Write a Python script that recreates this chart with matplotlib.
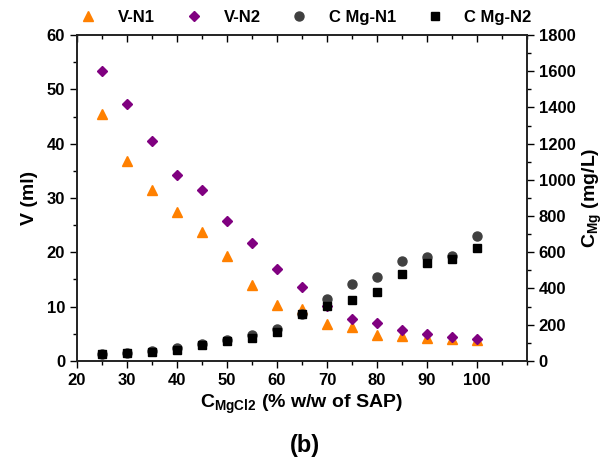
import numpy as np
import matplotlib
matplotlib.use("Agg")
import matplotlib.pyplot as plt
from matplotlib.ticker import MultipleLocator

plt.rcParams['font.family'] = ['Liberation Sans', 'DejaVu Sans']
plt.rcParams['font.weight'] = 'bold'
plt.rcParams['mathtext.fontset'] = 'custom'
plt.rcParams['mathtext.rm'] = 'Liberation Sans:bold'
plt.rcParams['mathtext.default'] = 'rm'

# MgCl2 dose (% w/w of SAP)
conc = [25, 30, 35, 40, 45, 50, 55, 60, 65, 70, 75, 80, 85, 90, 95, 100]
# volume (ml)
v_n1 = [45.4, 36.9, 31.5, 27.5, 23.7, 19.4, 13.9, 10.3, 9.5, 6.8, 6.3, 4.7, 4.5, 4.2, 4.0, 3.9]
v_n2 = [53.3, 47.3, 40.5, 34.3, 31.4, 25.7, 21.7, 16.9, 13.6, 10.1, 7.7, 6.9, 5.7, 4.9, 4.4, 4.05]
# Mg concentration (mg/L)
c_n1 = [39, 46, 55, 72, 92, 114, 142, 178, 260, 342, 427, 466, 550, 576, 581, 689]
c_n2 = [35, 44, 50, 62, 85, 108, 127, 160, 258, 305, 337, 381, 479, 539, 563, 624]

fig = plt.figure(figsize=(6.1, 4.68), dpi=100)
ax = fig.add_axes([0.126, 0.229, 0.738, 0.696])
ax2 = ax.twinx()

h1, = ax.plot(conc, v_n1, '^', color='#FF8000', ms=6.5, label='V-N1', ls='none')
h2, = ax.plot(conc, v_n2, 'D', color='#800080', ms=5.5, label='V-N2', ls='none')
h3, = ax2.plot(conc, c_n1, 'o', color='#404040', ms=6.5, label='C Mg-N1', ls='none')
h4, = ax2.plot(conc, c_n2, 's', color='black', ms=5.8, label='C Mg-N2', ls='none')

ax.set_xlim(20, 110)
ax.set_ylim(0, 60)
ax2.set_ylim(0, 1800)
ax.set_xticks([20, 30, 40, 50, 60, 70, 80, 90, 100])
ax.xaxis.set_minor_locator(MultipleLocator(5))
ax.yaxis.set_minor_locator(MultipleLocator(5))
ax2.set_yticks(np.arange(0, 1801, 200))
ax2.yaxis.set_minor_locator(MultipleLocator(100))

ax.tick_params(axis='both', which='major', labelsize=12, length=5, width=1, direction='out')
ax.tick_params(axis='both', which='minor', length=3, width=1, direction='out')
ax.tick_params(axis='x', which='both', top=True)
ax2.tick_params(axis='y', which='major', labelsize=12, length=5, width=1, direction='out')
ax2.tick_params(axis='y', which='minor', length=3, width=1, direction='out')
# top ticks point inward
for t in ax.xaxis.get_major_ticks() + ax.xaxis.get_minor_ticks():
    t.tick2line.set_marker(matplotlib.lines.TICKDOWN)

for a in (ax, ax2):
    for s in a.spines.values():
        s.set_linewidth(1.2)
        s.set_color('#222222')

ax.set_xlabel(r'C$_{\mathrm{MgCl2}}$ (% w/w of SAP)', fontsize=14, fontweight='bold', labelpad=4)
ax.set_ylabel('V (ml)', fontsize=14, fontweight='bold', labelpad=6)
ax2.set_ylabel(r'C$_{\mathrm{Mg}}$ (mg/L)', fontsize=14, fontweight='bold', labelpad=4)

fig.legend(handles=[h1, h2, h3, h4], loc='upper center', bbox_to_anchor=(0.5, 1.01),
           ncol=4, frameon=False, handletextpad=1.2, columnspacing=1.7,
           handlelength=1.2, prop={'weight': 'bold', 'size': 12})

fig.text(0.5, 0.048, '(b)', ha='center', va='center', fontsize=17, fontweight='bold')

fig.savefig('out.png', dpi=100)
